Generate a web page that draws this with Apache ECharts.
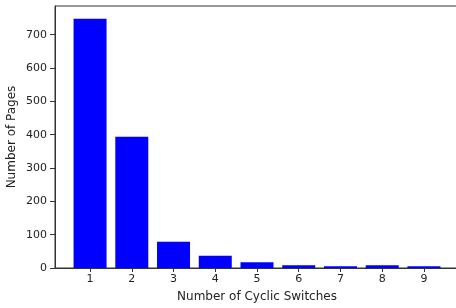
<!DOCTYPE html>
<html>
<head>
<meta charset="utf-8">
<script src="https://cdn.jsdelivr.net/npm/echarts@6/dist/echarts.min.js"></script>
<style>
  html, body { margin: 0; padding: 0; background: #fff; }
  #chart { width: 456px; height: 308px; }
</style>
</head>
<body>
<div id="chart"></div>
<script>
// datos del histograma
var switches = [1, 2, 3, 4, 5, 6, 7, 8, 9];
var pages = [748, 394, 79, 37, 17, 8, 5, 8, 5];
var yTicks = [0, 100, 200, 300, 400, 500, 600, 700];

var chart = echarts.init(document.getElementById('chart'));

var barData = switches.map(function (s, i) {
  return [s, pages[i]];
});

var option = {
  animation: false,
  grid: {
    left: 55,
    right: -3,
    top: 6,
    bottom: 40,
    outerBoundsMode: 'none',
    show: true,
    borderColor: '#333',
    borderWidth: 1
  },
  xAxis: {
    type: 'value',
    min: 0.16,
    max: 9.84,
    name: 'Number of Cyclic Switches',
    nameLocation: 'middle',
    nameGap: 23,
    nameTextStyle: { color: '#222', fontSize: 12, fontFamily: 'DejaVu Sans' },
    splitLine: { show: false },
    axisLine: { show: true, onZero: false, lineStyle: { color: '#333' } },
    axisTick: { show: true, length: 4, customValues: switches, lineStyle: { color: '#333' } },
    axisLabel: { customValues: switches, color: '#222', fontSize: 11, fontFamily: 'DejaVu Sans', margin: 6 }
  },
  yAxis: {
    type: 'value',
    min: 0,
    max: 786,
    name: 'Number of Pages',
    nameLocation: 'middle',
    nameGap: 37,
    nameMoveOverlap: false,
    nameTextStyle: { color: '#222', fontSize: 12, fontFamily: 'DejaVu Sans' },
    splitLine: { show: false },
    axisLine: { show: true, lineStyle: { color: '#333' } },
    axisTick: { show: true, length: 5, customValues: yTicks, lineStyle: { color: '#333' } },
    axisLabel: { customValues: yTicks, color: '#222', fontSize: 11, fontFamily: 'DejaVu Sans', margin: 8 }
  },
  series: [{
    type: 'bar',
    data: barData,
    barWidth: 33,
    itemStyle: { color: '#0000ff' }
  }]
};

chart.setOption(option);
</script>
</body>
</html>
